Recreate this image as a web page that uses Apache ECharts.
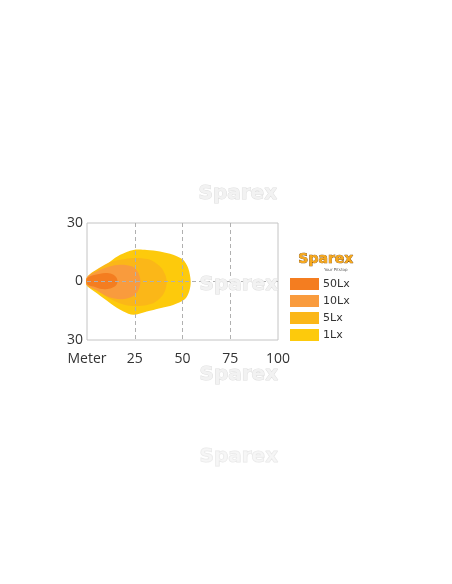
<!DOCTYPE html>
<html><head><meta charset="utf-8">
<script src="https://cdn.jsdelivr.net/npm/echarts@6/dist/echarts.min.js"></script>
<style>html,body{margin:0;padding:0;background:#fff}#c{width:452px;height:584px}</style>
</head><body><div id="c"></div>
<script>
// Axis ticks
const xMin = 0, xMax = 100, xStep = 25;
const yMin = -30, yMax = 30, yStep = 30;
const xZeroLabel = 'Meter';

// Legend / series names and colours
const seriesNames = ['50Lx', '10Lx', '5Lx', '1Lx'];
const seriesColors = ['#F47D20', '#F99B3D', '#FBB718', '#FDCA0C'];

// Isolux contours: [distance (m), lateral (m)]
const lux1 = [[0,1.8],[6.9,6.0],[12.2,10.3],[17.4,13.7],[24.3,16.2],[31.3,16.2],[38.2,15.4],[45.1,13.7],[50.3,11.1],[53.0,6.8],[54.3,0],[53.5,-5.1],[51.2,-9.1],[45.1,-12.0],[38.2,-13.7],[31.3,-15.4],[24.3,-17.1],[19.1,-15.4],[12.2,-11.1],[5.2,-6.0],[0,-2.0]];
const lux5 = [[0,2.2],[6.1,6.8],[13.0,10.3],[20.0,11.6],[26.9,12.0],[33.9,10.8],[39.1,6.8],[41.3,2.6],[41.7,0],[41.3,-3.4],[39.4,-7.3],[34.7,-11.1],[26.9,-12.5],[20.0,-12.0],[13.0,-9.4],[6.1,-5.1],[0,-2.2]];
const lux10 = [[0,2.1],[6.1,5.6],[13.0,8.0],[20.0,8.5],[24.3,7.4],[26.9,4.3],[28.0,0],[26.9,-4.3],[24.3,-7.4],[18.2,-9.1],[11.3,-8.0],[5.2,-4.6],[0,-1.7]];
const lux50 = [[0,1.7],[4.3,3.4],[9.5,4.3],[13.0,3.8],[15.3,2.2],[16.0,0],[15.1,-2.1],[12.2,-3.6],[7.8,-3.9],[3.5,-2.6],[0,-1.4]];

const contours = {'50Lx': lux50, '10Lx': lux10, '5Lx': lux5, '1Lx': lux1};

function contourSeries(name, color, z) {
  const pts = contours[name];
  return {
    type: 'custom', name: name, z: z, silent: true,
    coordinateSystem: 'cartesian2d',
    itemStyle: {color: color},
    data: [[pts[0][0], pts[0][1]]],
    renderItem: function (params, api) {
      return {
        type: 'polygon',
        shape: {points: pts.map(p => api.coord(p)), smooth: 0.3},
        style: {fill: color, stroke: null}
      };
    }
  };
}

const chart = echarts.init(document.getElementById('c'), null, {renderer: 'canvas'});
const labelFont = {fontFamily: 'Open Sans', fontSize: 14, color: '#333'};
const wm = (x, y, op) => ({
  type: 'text', left: x, top: y, z: 50, silent: true,
  style: {text: 'Sparex', font: 'bold 20px "DejaVu Sans"', fill: '#f2f2f2', stroke: '#dedede', lineWidth: 1, opacity: op}
});

chart.setOption({
  animation: false,
  backgroundColor: '#fff',
  grid: {left: 87, right: 174, top: 223, bottom: 244, show: true, borderColor: '#c4c4c4', borderWidth: 1, backgroundColor: 'transparent'},
  xAxis: {
    type: 'value', min: xMin, max: xMax, interval: xStep, z: 10,
    axisLine: {show: false}, axisTick: {show: false},
    splitLine: {show: true, showMinLine: false, showMaxLine: false, lineStyle: {color: '#b0b0b0', type: [4, 3], width: 1}},
    axisLabel: Object.assign({margin: 12, showMinLabel: true, showMaxLabel: true,
      formatter: v => v === 0 ? xZeroLabel : String(v)}, labelFont)
  },
  yAxis: {
    type: 'value', min: yMin, max: yMax, interval: yStep, z: 10,
    axisLine: {show: false}, axisTick: {show: false},
    splitLine: {show: true, showMinLine: false, showMaxLine: false, lineStyle: {color: '#b0b0b0', type: [4, 3], width: 1}},
    axisLabel: Object.assign({margin: 4, padding: [4, 0, 0, 0], formatter: v => String(Math.abs(v))}, labelFont)
  },
  legend: {
    orient: 'vertical', left: 290, top: 278, padding: 0, icon: 'rect',
    itemWidth: 29, itemHeight: 12, itemGap: 5,
    data: seriesNames,
    textStyle: {fontFamily: 'DejaVu Sans', fontSize: 11, color: '#333', padding: [0, 0, 0, -1]},
    selectedMode: false
  },
  series: [
    contourSeries('1Lx', seriesColors[3], 1),
    contourSeries('5Lx', seriesColors[2], 2),
    contourSeries('10Lx', seriesColors[1], 3),
    contourSeries('50Lx', seriesColors[0], 4)
  ],
  graphic: [
    wm(198, 183, 1), wm(199, 274, 1), wm(199, 364, 1), wm(199, 446, 0.7),
    {type: 'text', left: 298, top: 252, z: 60, silent: true,
     style: {text: 'Sparex', font: 'bold 14px "DejaVu Sans"', fill: '#F6A81D', stroke: '#7a4a10', lineWidth: 0.7}},
    {type: 'text', left: 324, top: 268, z: 60, silent: true,
     style: {text: 'Your Pitstop', font: '4px "DejaVu Sans"', fill: '#555'}}
  ]
});
</script></body></html>
